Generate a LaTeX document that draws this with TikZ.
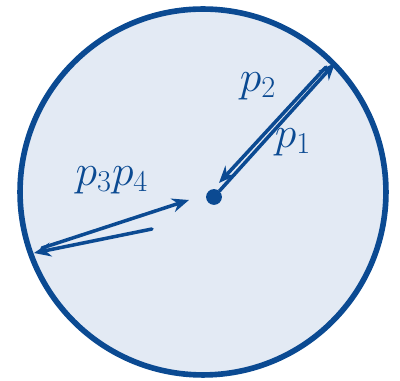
\documentclass[tikz,border=0pt]{standalone}
\usepackage{amsmath}
\usetikzlibrary{arrows.meta}
\definecolor{inkblue}{HTML}{0B4A92}
\definecolor{diskfill}{HTML}{E3EAF4}

\begin{document}
\begin{tikzpicture}[
x=0.02cm,y=-0.02cm,
disk/.style={draw=inkblue, fill=diskfill, line width=3.2pt},
ray/.style={-{Stealth[length=3.4mm,width=2.8mm]}, draw=inkblue, line width=2pt, line cap=round},
lbl/.style={text=inkblue, font=\fontsize{26}{30}\selectfont}
]
\useasboundingbox (0,0) rectangle (400,381);
\draw[disk] (203,192) circle [radius=3.66cm];

\node[circle, fill=inkblue, inner sep=0pt, minimum size=9pt] (ctr) at (214,197) {};

% up-right pair
\coordinate (ne) at (335,63);
\coordinate (neb) at (326,67);
\coordinate (nein) at (219,183);
\draw[ray] (ctr) -- (ne);
\draw[ray] (neb) -- (nein);
\node[lbl] (ptwo) at (258,86) {$p_2$};
\node[lbl] (pone) at (293,142) {$p_1$};

% left pair
\coordinate (we) at (34,253);
\coordinate (weo) at (152,229);
\coordinate (web) at (42,248);
\coordinate (wein) at (189,200);
\draw[ray] (weo) -- (we);
\draw[ray] (web) -- (wein);
\node[lbl] (pthree) at (112,180) {$p_3p_4$};
\end{tikzpicture}
\end{document}
